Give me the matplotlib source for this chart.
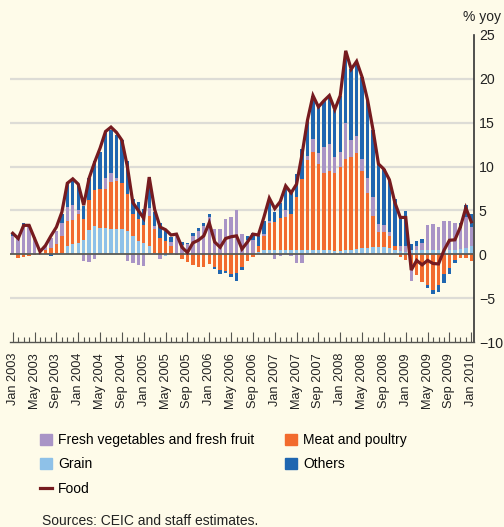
import numpy as np
import matplotlib.pyplot as plt
from matplotlib.patches import Patch
from matplotlib.lines import Line2D

plt.rcParams['font.family'] = ['Liberation Sans', 'DejaVu Sans']

BG = "#fefbe9"
C_VEG = "#a994c6"
C_GRAIN = "#8ec1e8"
C_MEAT = "#f26b2e"
C_OTHER = "#1f66b0"
C_FOOD = "#761b1f"

# monthly, Jan 2003 .. Jan 2010 (contributions, percentage points)
grain = [0, 0, 0, 0, 0, 0, 0, 0, 0, 0.1,
         1.0, 1.2, 1.3, 1.65, 2.8, 3.2, 3.0, 3.0, 2.9, 2.9,
         2.9, 2.6, 2.1, 1.5, 1.3, 1.0, 0.1, 0, -0.15, 0,
         0, 0, 0, 0, 0, 0, 0, 0, 0, 0,
         0, 0, 0, 0, 0, 0.3, 0.45, 0.5, 0.5, 0.5,
         0.5, 0.5, 0.5, 0.5, 0.5, 0.5, 0.5, 0.5, 0.5, 0.4,
         0.4, 0.45, 0.5, 0.65, 0.75, 0.75, 0.8, 0.8, 0.8, 0.7,
         0.5, 0.4, 0.3, 0.45, 0.45, 0.45, 0.45, 0.45, 0.45, 0.5,
         0.5, 0.5, 0.6, 0.75, 0.9]
meat = [0, -0.45, -0.35, -0.25, -0.1, 0, 0.45, 0.75, 1.2, 2.0,
        2.8, 2.7, 3.3, 2.35, 3.4, 4.1, 4.5, 4.5, 5.3, 5.4,
        5.2, 4.3, 2.5, 2.5, 2.0, 3.4, 2.8, 1.85, 1.5, 0.9,
        -0.1, -0.55, -0.9, -1.25, -1.4, -1.5, -1.1, -1.5, -1.8, -1.9,
        -2.25, -2.1, -1.5, -0.8, -0.3, 0.6, 1.65, 3.1, 3.2, 3.6,
        3.8, 4.1, 6.0, 8.1, 10.3, 11.15, 9.8, 8.8, 9.0, 8.9,
        9.5, 10.45, 10.55, 10.85, 8.75, 6.25, 3.6, 1.7, 1.7, 1.4,
        0.5, -0.3, -0.6, -1.1, -2.4, -3.2, -3.5, -4.05, -3.5, -2.3,
        -1.55, -0.7, -0.4, -0.45, -0.8]
veg = [2.1, 1.8, 3.2, 3.3, 2.0, 0.2, 0.55, 1.05, 1.5, 1.5,
       1.6, 1.7, 0.4, -0.8, -0.9, -0.5, 0, 1.2, 1.1, 0.4,
       0, -0.8, -1.0, -1.2, -1.35, 0.9, 0.3, -0.55, 0, 0.5,
       2.1, 1.1, 1.2, 2.1, 2.6, 3.2, 4.2, 2.9, 2.9, 4.0,
       4.2, 5.0, 2.3, 1.6, 1.6, 0, 0.25, 0.2, -0.55, -0.2,
       0.7, -0.2, -1.05, -1.0, 0.4, 1.55, 1.2, 2.9, 3.1, 1.8,
       1.75, 4.1, 1.95, 2.0, 1.4, 1.7, 2.1, 1.0, 0.8, 0.4,
       0, 0.6, 0.7, -2.0, 0.5, 0.85, 2.85, 2.95, 2.7, 3.35,
       3.35, 3.1, 2.4, 3.45, 2.2]
others = [0.3, 0.1, 0.4, 0, 0, 0, 0, -0.2, 0, 1.0,
          2.7, 2.9, 3.0, 1.5, 2.5, 3.3, 4.2, 5.3, 4.9, 4.9,
          4.9, 3.7, 1.7, 2.0, 1.9, 3.5, 1.6, 1.75, 1.2, 0.6,
          0, 0.3, 0.1, 0.3, 0.4, 0.4, 0.4, -0.2, -0.4, -0.2,
          -0.3, -0.9, -0.3, 0.5, 0.8, 1.2, 1.45, 2.6, 1.15, 1.8,
          2.8, 2.4, 2.7, 3.4, 4.1, 4.9, 5.3, 5.3, 5.5, 5.4,
          6.45, 8.2, 8.1, 8.5, 9.3, 8.9, 7.7, 6.9, 6.4, 5.8,
          5.3, 3.4, 3.9, 0.75, 0.6, 0.45, -0.4, -0.45, -0.75, -1.0,
          -0.7, -0.25, 0.6, 1.4, 1.5]
food = [2.4, 1.8, 3.3, 3.3, 1.8, 0.3, 1.0, 2.1, 3.1, 4.8,
        8.1, 8.6, 8.0, 5.6, 8.7, 10.5, 12.1, 14.0, 14.5, 13.9,
        13.0, 10.0, 5.9, 5.0, 4.1, 8.8, 5.1, 3.1, 2.8, 2.2,
        2.3, 0.8, 0.2, 1.3, 1.6, 2.1, 3.6, 1.4, 0.8, 1.8,
        2.0, 2.1, 0.6, 1.4, 2.3, 2.2, 4.2, 6.4, 5.2, 6.0,
        7.8, 7.0, 8.0, 11.4, 15.3, 18.1, 16.8, 17.5, 18.1, 16.5,
        18.1, 23.2, 21.1, 22.0, 20.2, 17.6, 14.2, 10.3, 9.7, 8.5,
        5.9, 4.2, 4.2, -1.8, -0.7, -1.2, -0.7, -1.05, -1.1, 0.45,
        1.6, 1.65, 3.1, 5.3, 3.7]

months = ["Jan", "May", "Sep"]
tick_labels = [f"{months[k % 3]} {2003 + k // 3}" for k in range(22)]

x = np.arange(len(food))
fig = plt.figure(figsize=(5.04, 5.27), dpi=100, facecolor=BG)
ax = fig.add_axes([10 / 504, 1 - 342 / 527, 464 / 504, 307 / 527])
ax.set_facecolor(BG)

for yv in (-5, 5, 10, 15, 20):
    ax.axhline(yv, color="#dddcd6", lw=1.6, zorder=0)

pos_bot = np.zeros(len(x))
neg_bot = np.zeros(len(x))
for vals, col in ((grain, C_GRAIN), (meat, C_MEAT), (veg, C_VEG), (others, C_OTHER)):
    v = np.array(vals, dtype=float)
    p = np.where(v > 0, v, 0)
    n = np.where(v < 0, v, 0)
    ax.bar(x, p, bottom=pos_bot, width=0.62, color=col, lw=0, zorder=2)
    ax.bar(x, n, bottom=neg_bot, width=0.62, color=col, lw=0, zorder=2)
    pos_bot += p
    neg_bot += n

ax.axhline(0, color="#5a5a55", lw=1.3, zorder=3)
ax.plot(x, food, color=C_FOOD, lw=2.3, zorder=4, solid_joinstyle="miter")

ax.set_xlim(-0.5, len(x) - 0.5)
ax.set_ylim(-10, 25)
for s in ("top", "left"):
    ax.spines[s].set_visible(False)
ax.spines["right"].set_color("#333333")
ax.spines["right"].set_linewidth(1.2)
ax.spines["bottom"].set_color("#555550")
ax.spines["bottom"].set_linewidth(1.0)

ax.yaxis.tick_right()
ax.set_yticks(range(-10, 26, 5))
ax.tick_params(axis="y", length=0, pad=3.5, labelsize=10.2, colors="#222222")
ax.set_xticks(x[::4])
ax.set_xticks(x, minor=True)
ax.set_xticklabels(tick_labels, rotation=90, fontsize=9.2, color="#222222")
ax.tick_params(axis="x", which="major", direction="in", length=7, width=0.8,
               color="#555550", pad=8)
ax.tick_params(axis="x", which="minor", direction="in", length=3.5, width=0.8,
               color="#555550")

fig.text(482 / 504, 1 - 17 / 527, "% yoy", ha="center", va="center",
         fontsize=10, color="#222222")

handles = [Patch(color=C_VEG), Patch(color=C_GRAIN),
           Line2D([], [], color=C_FOOD, lw=2.3),
           Patch(color=C_MEAT), Patch(color=C_OTHER)]
labels = ["Fresh vegetables and fresh fruit", "Grain", "Food",
          "Meat and poultry", "Others"]
fig.legend(handles, labels, ncol=2, loc="upper left",
           bbox_to_anchor=(40 / 504, 1 - 433 / 527), frameon=False,
           fontsize=10, handlelength=0.85, handleheight=0.85,
           handletextpad=0.45, columnspacing=2.2, labelspacing=0.75,
           borderpad=0, borderaxespad=0)

fig.text(42 / 504, 1 - 521 / 527, "Sources: CEIC and staff estimates.",
         ha="left", va="center", fontsize=10, color="#222222")

fig.savefig("out.png", dpi=100, facecolor=BG)
